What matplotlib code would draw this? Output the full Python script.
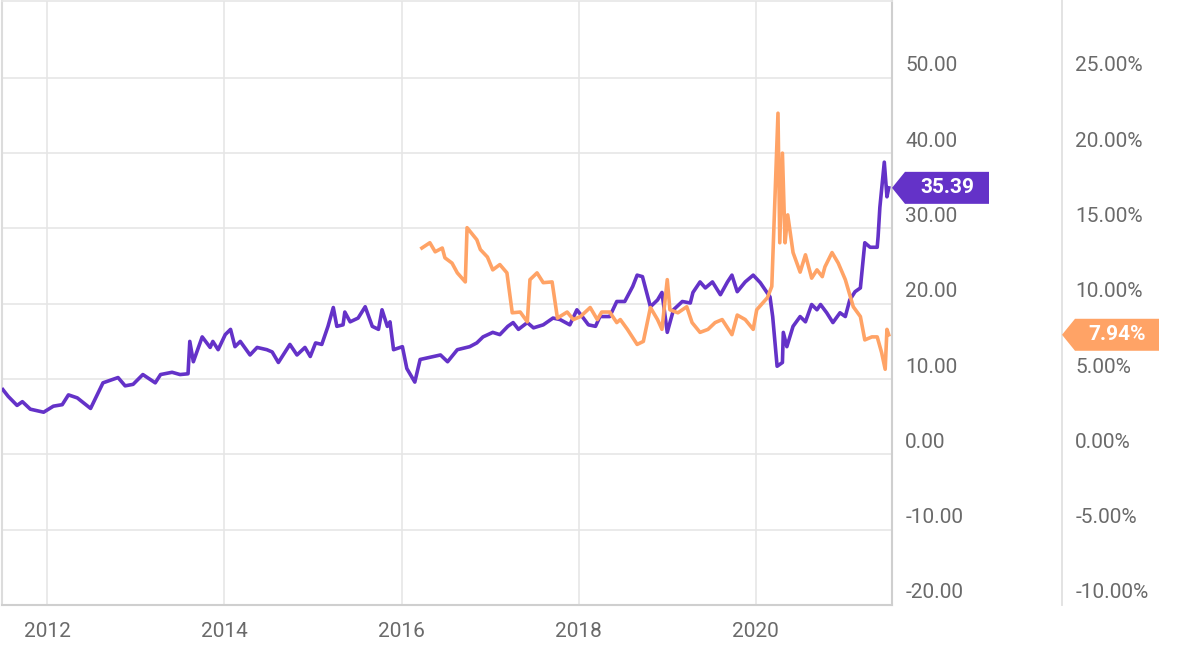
import matplotlib
matplotlib.use("Agg")
import matplotlib.pyplot as plt
from matplotlib import transforms
from matplotlib.patches import Polygon
from matplotlib.lines import Line2D
import numpy as np

plt.rcParams['font.family'] = ['Roboto', 'DejaVu Sans']

# ---- data (decimal years) ----
price_dates = [2011.50, 2011.56, 2011.66, 2011.72, 2011.81, 2011.96, 2012.07, 2012.17, 2012.24, 2012.34,
               2012.49, 2012.63, 2012.80, 2012.88, 2012.97, 2013.08, 2013.22, 2013.28, 2013.41, 2013.50,
               2013.59, 2013.61, 2013.65, 2013.75, 2013.84, 2013.87, 2013.93, 2014.01, 2014.07, 2014.12,
               2014.18, 2014.29, 2014.37, 2014.48, 2014.54, 2014.61, 2014.74, 2014.82, 2014.91, 2014.97,
               2015.03, 2015.10, 2015.17, 2015.23, 2015.27, 2015.34, 2015.36, 2015.42, 2015.51, 2015.59,
               2015.67, 2015.74, 2015.78, 2015.84, 2015.87, 2015.91, 2016.01, 2016.06, 2016.15, 2016.21,
               2016.36, 2016.44, 2016.52, 2016.63, 2016.77, 2016.85, 2016.92, 2017.03, 2017.11, 2017.20,
               2017.26, 2017.32, 2017.42, 2017.49, 2017.60, 2017.71, 2017.79, 2017.90, 2017.98, 2018.04,
               2018.11, 2018.19, 2018.24, 2018.35, 2018.43, 2018.52, 2018.61, 2018.66, 2018.72, 2018.81,
               2018.89, 2018.94, 2019.00, 2019.07, 2019.17, 2019.26, 2019.29, 2019.37, 2019.43, 2019.51,
               2019.60, 2019.68, 2019.73, 2019.79, 2019.88, 2019.97, 2020.05, 2020.16, 2020.19, 2020.24,
               2020.30, 2020.31, 2020.35, 2020.42, 2020.50, 2020.56, 2020.63, 2020.69, 2020.73, 2020.80,
               2020.87, 2020.95, 2021.01, 2021.06, 2021.12, 2021.18, 2021.23, 2021.29, 2021.37, 2021.38,
               2021.40, 2021.45, 2021.48, 2021.50]
price_values = [8.6, 7.7, 6.5, 7.0, 6.0, 5.6, 6.4, 6.6, 7.9, 7.5,
                6.1, 9.5, 10.2, 9.1, 9.3, 10.6, 9.5, 10.6, 10.9, 10.6,
                10.7, 15.0, 12.3, 15.6, 14.2, 15.0, 13.9, 15.9, 16.6, 14.3,
                15.0, 13.2, 14.2, 13.9, 13.6, 12.2, 14.6, 13.2, 14.2, 13.0,
                14.8, 14.6, 17.0, 19.5, 17.0, 17.2, 18.9, 17.6, 18.1, 19.6,
                17.0, 16.6, 19.2, 17.0, 17.6, 13.9, 14.3, 11.4, 9.6, 12.6,
                13.0, 13.2, 12.3, 13.9, 14.3, 14.8, 15.6, 16.2, 15.9, 17.0,
                17.5, 16.6, 17.5, 16.8, 17.2, 18.1, 17.9, 17.2, 19.2, 18.3,
                17.2, 17.0, 18.3, 18.3, 20.3, 20.3, 22.3, 23.8, 23.6, 19.6,
                20.5, 21.5, 16.2, 19.2, 20.3, 20.1, 21.5, 22.9, 22.1, 22.9,
                21.2, 22.9, 23.8, 21.6, 22.9, 23.8, 22.8, 20.9, 18.3, 11.7,
                12.2, 16.2, 14.3, 17.0, 18.3, 17.6, 19.9, 19.2, 19.9, 18.8,
                17.5, 18.8, 18.3, 20.5, 21.6, 22.1, 28.1, 27.5, 27.5, 28.9,
                32.8, 38.8, 34.2, 35.39]

yield_dates = [2016.23, 2016.32, 2016.38, 2016.46, 2016.49, 2016.57, 2016.63, 2016.72, 2016.74, 2016.85,
               2016.89, 2016.97, 2017.03, 2017.11, 2017.19, 2017.25, 2017.34, 2017.42, 2017.45, 2017.53,
               2017.60, 2017.70, 2017.76, 2017.87, 2017.94, 2018.02, 2018.13, 2018.21, 2018.26, 2018.35,
               2018.43, 2018.47, 2018.55, 2018.66, 2018.73, 2018.81, 2018.89, 2018.94, 2019.00, 2019.03,
               2019.12, 2019.22, 2019.28, 2019.37, 2019.46, 2019.54, 2019.62, 2019.73, 2019.79, 2019.88,
               2019.97, 2020.01, 2020.13, 2020.18, 2020.25, 2020.27, 2020.30, 2020.33, 2020.36, 2020.42,
               2020.50, 2020.56, 2020.63, 2020.69, 2020.75, 2020.78, 2020.86, 2020.93, 2021.01, 2021.10,
               2021.18, 2021.23, 2021.31, 2021.37, 2021.42, 2021.46, 2021.48, 2021.50]
yield_values = [13.7, 14.05, 13.45, 13.7, 13.05, 12.7, 12.05, 11.45, 15.05, 14.25,
                13.6, 13.1, 12.25, 12.6, 12.05, 9.4, 9.45, 8.8, 11.6, 12.05,
                11.4, 11.45, 9.05, 9.45, 8.95, 9.15, 9.75, 8.95, 9.45, 9.45,
                8.75, 8.95, 8.3, 7.3, 7.5, 9.75, 8.95, 8.3, 11.6, 9.6,
                9.4, 9.8, 8.75, 8.1, 8.3, 8.75, 8.95, 7.95, 9.25, 8.95,
                8.3, 9.6, 10.4, 11.15, 22.65, 14.05, 20.0, 14.05, 15.9, 13.4,
                12.1, 13.25, 11.7, 12.25, 11.8, 12.45, 13.4, 12.7, 11.6, 9.8,
                9.15, 7.6, 7.8, 7.8, 6.75, 5.65, 8.3, 7.94]

year_ticks = [2012, 2014, 2016, 2018, 2020]
left_ticks = [-20, -10, 0, 10, 20, 30, 40, 50]
right_ticks = [-10, -5, 0, 5, 10, 15, 20, 25]

PURPLE = '#6432c8'
ORANGE = '#ffa366'
GRID = '#e6e6e6'
TXT = '#6a6a6a'

W, H = 1182, 650
fig = plt.figure(figsize=(W / 100, H / 100), dpi=100)
ax = fig.add_axes([2 / W, (H - 605) / H, 890 / W, 604 / H])
ax2 = ax.twinx()

ax.set_xlim(2011.49, 2021.537)
ax.set_ylim(-20, 60.2)
ax2.set_ylim(-10, 30.1)

ax.plot(price_dates, price_values, color=PURPLE, lw=2.6, solid_joinstyle='round', zorder=3)
ax2.plot(yield_dates, yield_values, color=ORANGE, lw=2.6, solid_joinstyle='round', zorder=3)

# grid
ax.set_xticks(year_ticks)
ax.set_xticklabels([str(y) for y in year_ticks])
ax.set_yticks(left_ticks)
ax.set_yticklabels([f'{v:.2f}' for v in left_ticks])
ax2.set_yticks(right_ticks)
ax2.set_yticklabels([f'{v:.2f}%' for v in right_ticks])
ax.grid(True, color=GRID, lw=1.2)
ax.set_axisbelow(True)

ax.yaxis.tick_right()
ax.tick_params(axis='y', length=0, pad=9.5, labelsize=15, labelcolor=TXT)
ax.tick_params(axis='x', length=0, pad=12, labelsize=15, labelcolor=TXT)
ax2.tick_params(axis='y', length=0, pad=132, labelsize=15, labelcolor=TXT)

shift = transforms.ScaledTranslation(0, 14 / 100, fig.dpi_scale_trans)
for lab in ax.get_yticklabels() + ax2.get_yticklabels():
    lab.set_transform(lab.get_transform() + shift)

for a in (ax, ax2):
    for s in a.spines.values():
        s.set_visible(False)
ax.spines['left'].set_visible(True)
ax.spines['left'].set_color('#dcdcdc')
ax.spines['left'].set_linewidth(1.5)
ax.spines['top'].set_visible(True)
ax.spines['top'].set_color('#e6e6e6')
ax.spines['top'].set_linewidth(1.2)
ax.spines['bottom'].set_visible(True)
ax.spines['bottom'].set_color('#cfcfcf')
ax.spines['bottom'].set_linewidth(1.5)
ax.spines['right'].set_visible(True)
ax.spines['right'].set_color('#cfcfcf')
ax.spines['right'].set_linewidth(1.5)

# right-hand axis line
fig.add_artist(Line2D([1062 / W, 1062 / W], [(H - 605) / H, 1.0], transform=fig.transFigure,
                      color='#e0e0e0', lw=1.3))

# value tags
def tag(axis, yval, x0px, text, color):
    blend = transforms.blended_transform_factory(axis.transAxes, axis.transData)
    tr = fig.dpi_scale_trans + transforms.ScaledTranslation(1.0, yval, blend)
    h = 16 / 100
    tip = x0px / 100
    base = tip + 13 / 100
    right = tip + 97 / 100
    poly = Polygon([(tip, 0), (base, h), (right, h), (right, -h), (base, -h)], closed=True,
                   transform=tr, facecolor=color, edgecolor='none', clip_on=False, zorder=5)
    fig.add_artist(poly)
    fig.text((base + right) / 2, 0.0, text, transform=tr, ha='center', va='center',
             color='white', fontsize=15, fontweight='bold', zorder=6)

tag(ax, price_values[-1], 0, f'{price_values[-1]:.2f}', PURPLE)
tag(ax2, yield_values[-1], 170, f'{yield_values[-1]:.2f}%', ORANGE)

fig.savefig('out.png', dpi=100, facecolor='white')
